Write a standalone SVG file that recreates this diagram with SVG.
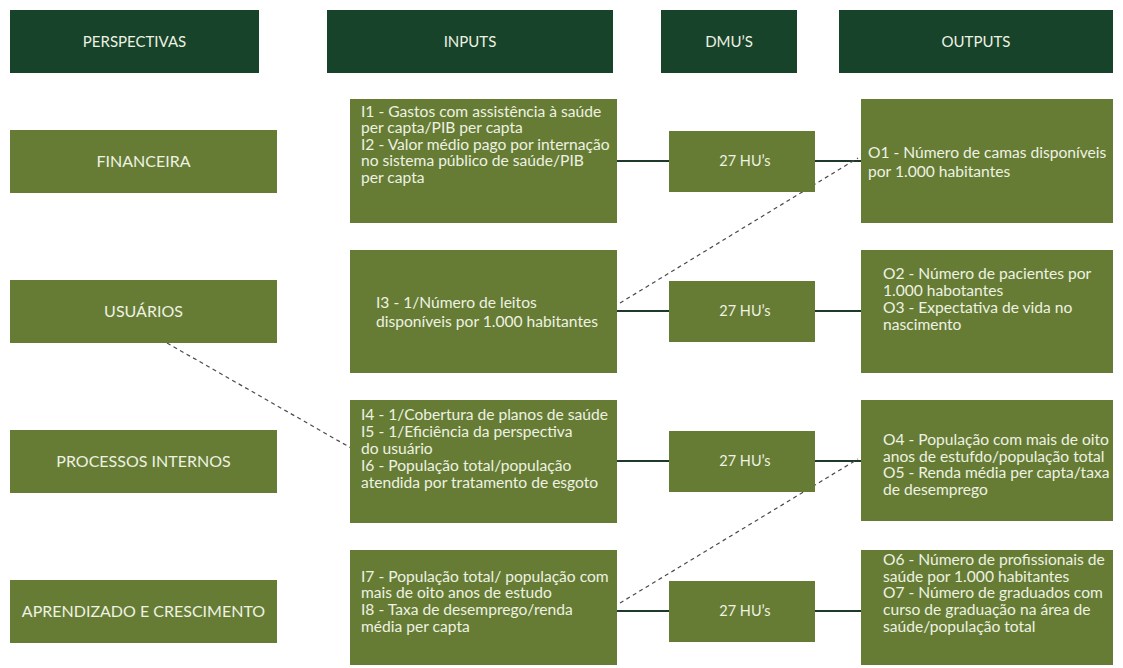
<svg xmlns="http://www.w3.org/2000/svg" width="1123" height="668" viewBox="0 0 1123 668">
  <defs>
    <style>
      .hdr { fill: #17432a; }
      .box { fill: #667c35; }
      .t { font-family: Lato, "Open Sans", "Liberation Sans", sans-serif; font-size: 15.6px; fill: #eef2e2; }
      .h { font-size: 15px; }
      .p { font-size: 16px; }
      .d { font-size: 14.5px; }
      .c { text-anchor: middle; }
      .solid { stroke: #1e3a2a; stroke-width: 2; fill: none; }
      .dash { stroke: #4a4a4a; stroke-width: 1.2; stroke-dasharray: 4 3.5; fill: none; }
    </style>
  </defs>
  <rect width="1123" height="668" fill="#ffffff"/>

  <!-- column headers -->
  <g id="hdr-perspectivas">
    <rect class="hdr" x="10" y="10" width="249" height="63"/>
    <text class="t h c" x="134.5" y="47">PERSPECTIVAS</text>
  </g>
  <g id="hdr-inputs">
    <rect class="hdr" x="327" y="10" width="286" height="63"/>
    <text class="t h c" x="470" y="47">INPUTS</text>
  </g>
  <g id="hdr-dmus">
    <rect class="hdr" x="661" y="10" width="136" height="63"/>
    <text class="t h c" x="729" y="47">DMU’S</text>
  </g>
  <g id="hdr-outputs">
    <rect class="hdr" x="839" y="10" width="274" height="63"/>
    <text class="t h c" x="976" y="47">OUTPUTS</text>
  </g>

  <!-- connectors -->
  <g id="connectors">
    <line class="solid" x1="617" y1="161" x2="669" y2="161"/>
    <line class="solid" x1="815" y1="161" x2="861" y2="161"/>
    <line class="solid" x1="617" y1="311" x2="669" y2="311"/>
    <line class="solid" x1="815" y1="311" x2="861" y2="311"/>
    <line class="solid" x1="617" y1="461" x2="669" y2="461"/>
    <line class="solid" x1="815" y1="461" x2="861" y2="461"/>
    <line class="solid" x1="617" y1="611" x2="669" y2="611"/>
    <line class="solid" x1="815" y1="611" x2="861" y2="611"/>
    <line class="dash" x1="620" y1="303" x2="858" y2="158"/>
    <line class="dash" x1="167" y1="343" x2="351" y2="448"/>
    <line class="dash" x1="620" y1="603" x2="858" y2="459"/>
  </g>

  <!-- perspectives -->
  <g id="p-financeira">
    <rect class="box" x="10" y="130" width="267" height="63"/>
    <text class="t p c" x="143.5" y="167">FINANCEIRA</text>
  </g>
  <g id="p-usuarios">
    <rect class="box" x="10" y="280" width="267" height="63"/>
    <text class="t p c" x="143.5" y="317">USUÁRIOS</text>
  </g>
  <g id="p-processos">
    <rect class="box" x="10" y="430" width="267" height="63"/>
    <text class="t p c" x="143.5" y="467">PROCESSOS INTERNOS</text>
  </g>
  <g id="p-aprendizado">
    <rect class="box" x="10" y="580" width="267" height="63"/>
    <text class="t p c" x="143.5" y="617">APRENDIZADO E CRESCIMENTO</text>
  </g>

  <!-- inputs -->
  <g id="in-1">
    <rect class="box" x="350" y="99" width="267" height="124"/>
    <text class="t" x="361" y="117">I1 - Gastos com assistência à saúde</text>
    <text class="t" x="361" y="133">per capta/PIB per capta</text>
    <text class="t" x="361" y="150">I2 - Valor médio pago por internação</text>
    <text class="t" x="361" y="166">no sistema público de saúde/PIB</text>
    <text class="t" x="361" y="183">per capta</text>
  </g>
  <g id="in-2">
    <rect class="box" x="350" y="250" width="267" height="123"/>
    <text class="t" x="376" y="308">I3 - 1/Número de leitos</text>
    <text class="t" x="376" y="327">disponíveis por 1.000 habitantes</text>
  </g>
  <g id="in-3">
    <rect class="box" x="350" y="400" width="267" height="123"/>
    <text class="t" x="361" y="420">I4 - 1/Cobertura de planos de saúde</text>
    <text class="t" x="361" y="437">I5 - 1/Eficiência da perspectiva</text>
    <text class="t" x="361" y="454">do usuário</text>
    <text class="t" x="361" y="471">I6 - População total/população</text>
    <text class="t" x="361" y="488">atendida por tratamento de esgoto</text>
  </g>
  <g id="in-4">
    <rect class="box" x="350" y="550" width="267" height="115"/>
    <text class="t" x="361" y="582">I7 - População total/ população com</text>
    <text class="t" x="361" y="598">mais de oito anos de estudo</text>
    <text class="t" x="361" y="615">I8 - Taxa de desemprego/renda</text>
    <text class="t" x="361" y="632">média per capta</text>
  </g>

  <!-- DMUs -->
  <g id="dmu-1">
    <rect class="box" x="669" y="131" width="146" height="61"/>
    <text class="t d c" x="745" y="166">27 HU’s</text>
  </g>
  <g id="dmu-2">
    <rect class="box" x="669" y="281" width="146" height="61"/>
    <text class="t d c" x="745" y="316">27 HU’s</text>
  </g>
  <g id="dmu-3">
    <rect class="box" x="669" y="431" width="146" height="61"/>
    <text class="t d c" x="745" y="466">27 HU’s</text>
  </g>
  <g id="dmu-4">
    <rect class="box" x="669" y="581" width="146" height="61"/>
    <text class="t d c" x="745" y="616">27 HU’s</text>
  </g>

  <!-- outputs -->
  <g id="out-1">
    <rect class="box" x="861" y="99" width="252" height="124"/>
    <text class="t" x="868" y="158">O1 - Número de camas disponíveis</text>
    <text class="t" x="868" y="177">por 1.000 habitantes</text>
  </g>
  <g id="out-2">
    <rect class="box" x="861" y="250" width="252" height="123"/>
    <text class="t" x="883" y="279">O2 - Número de pacientes por</text>
    <text class="t" x="883" y="296">1.000 habotantes</text>
    <text class="t" x="883" y="313">O3 - Expectativa de vida no</text>
    <text class="t" x="883" y="330">nascimento</text>
  </g>
  <g id="out-3">
    <rect class="box" x="861" y="400" width="252" height="121"/>
    <text class="t" x="883" y="445">O4 - População com mais de oito</text>
    <text class="t" x="883" y="462">anos de estufdo/população total</text>
    <text class="t" x="883" y="478">O5 - Renda média per capta/taxa</text>
    <text class="t" x="883" y="495">de desemprego</text>
  </g>
  <g id="out-4">
    <rect class="box" x="861" y="550" width="252" height="115"/>
    <text class="t" x="883" y="565">O6 - Número de profissionais de</text>
    <text class="t" x="883" y="582">saúde por 1.000 habitantes</text>
    <text class="t" x="883" y="598">O7 - Número de graduados com</text>
    <text class="t" x="883" y="615">curso de graduação na área de</text>
    <text class="t" x="883" y="632">saúde/população total</text>
  </g>
</svg>
